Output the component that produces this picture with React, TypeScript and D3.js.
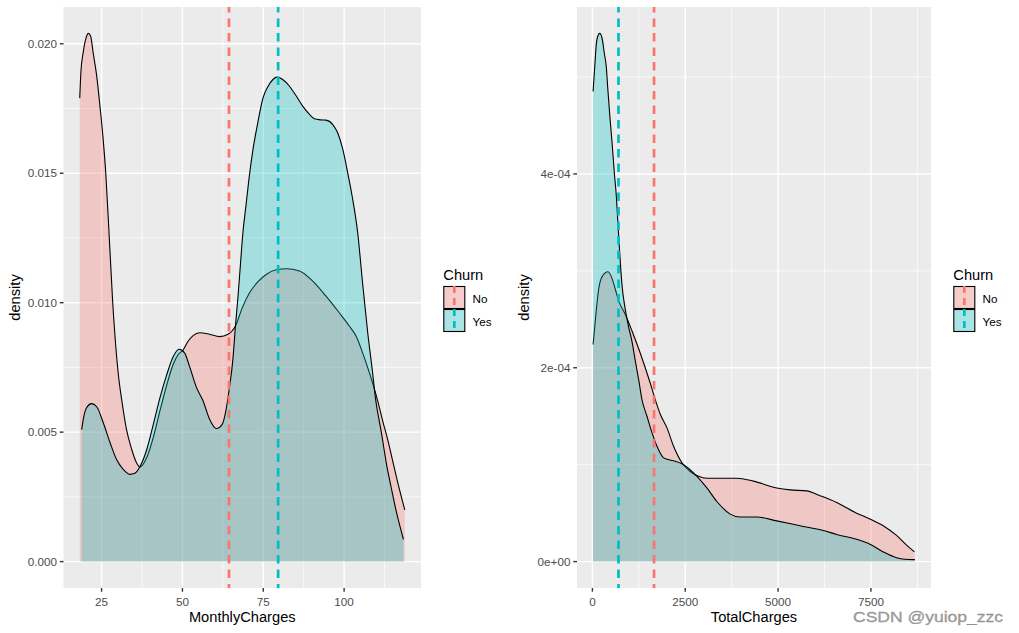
import React from "react";
import * as d3 from "d3";

type Pt = [number, number];

// ---------- Data ----------
const churnLevels = ["No", "Yes"];
const churnColors = ["#F8766D", "#00BFC4"];

// Left panel: density of MonthlyCharges by Churn
const monthlyNo: Pt[] = [
  [18.25, 0.0179], [18.6, 0.0189], [19.3, 0.01965], [20.2, 0.02023], [20.9, 0.0204],
  [21.6, 0.0203], [22.4, 0.01965], [23.5, 0.01875], [24.5, 0.01759], [25.5, 0.0163],
  [26.3, 0.015], [27.3, 0.0127], [28.4, 0.0101], [29.4, 0.0083], [30.3, 0.0071],
  [31.2, 0.00627], [32.7, 0.00511], [34.3, 0.00434], [35.8, 0.00382], [36.8, 0.00365],
  [38.9, 0.004], [41.0, 0.0048], [43.0, 0.0058], [45.1, 0.0068], [47.1, 0.0076],
  [48.7, 0.008], [50.2, 0.00817], [51.7, 0.0085], [53.3, 0.00873], [55.3, 0.00884],
  [58.4, 0.00878], [61.5, 0.00869], [64.1, 0.00878], [66.4, 0.0091], [68.5, 0.0098],
  [70.8, 0.01039], [73.3, 0.0108], [75.9, 0.01109], [79.0, 0.01127], [82.1, 0.01131],
  [86.2, 0.01122], [90.3, 0.01083], [94.4, 0.01025], [98.5, 0.00961], [101.6, 0.0091],
  [103.7, 0.00871], [105.7, 0.00807], [107.8, 0.0073], [109.4, 0.00665], [110.4, 0.0062],
  [112.0, 0.0054], [113.5, 0.0047], [115.0, 0.0039], [116.5, 0.0031], [118.75, 0.002],
];
const monthlyYes: Pt[] = [
  [18.85, 0.0051], [19.5, 0.0056], [20.4, 0.00595], [21.9, 0.0061], [23.5, 0.00598],
  [25.5, 0.00537], [27.6, 0.0046], [29.6, 0.00395], [31.7, 0.00356], [33.7, 0.00337],
  [35.3, 0.00341], [36.8, 0.00365], [38.9, 0.0043], [41.0, 0.0053], [43.0, 0.0063],
  [45.1, 0.0072], [47.1, 0.0079], [49.0, 0.0082], [50.7, 0.00805], [52.2, 0.00754],
  [54.3, 0.00674], [56.4, 0.0062], [58.4, 0.0055], [60.5, 0.00514], [62.3, 0.0053],
  [63.4, 0.0058], [64.4, 0.0066], [65.6, 0.0078], [66.4, 0.0091], [67.2, 0.01026],
  [67.9, 0.01141], [68.7, 0.0127], [69.6, 0.0137], [70.6, 0.0148], [71.8, 0.0159],
  [73.3, 0.01695], [74.9, 0.0179], [76.4, 0.01834], [78.0, 0.01862], [79.2, 0.01871],
  [81.0, 0.01862], [83.1, 0.01836], [85.2, 0.01798], [87.2, 0.01759], [89.3, 0.01727],
  [90.8, 0.0171], [92.6, 0.01706], [94.4, 0.01705], [96.5, 0.01688], [98.0, 0.01656],
  [99.6, 0.01592], [101.1, 0.01502], [102.5, 0.0141], [104.2, 0.0127], [105.7, 0.01077],
  [107.3, 0.00884], [108.8, 0.0073], [109.7, 0.0063], [111.5, 0.005], [113.2, 0.0037],
  [114.5, 0.0029], [116.2, 0.0019], [118.35, 0.00086],
];
const monthlyMedians = [64.4, 79.6]; // No, Yes

const monthlyXTicks = [25, 50, 75, 100];
const monthlyXTickLabels = ["25", "50", "75", "100"];
const monthlyXMinor = [37.5, 62.5, 87.5, 112.5];
const monthlyYTicks = [0, 0.005, 0.01, 0.015, 0.02];
const monthlyYTickLabels = ["0.000", "0.005", "0.010", "0.015", "0.020"];
const monthlyYMinor = [0.0025, 0.0075, 0.0125, 0.0175];

// Right panel: density of TotalCharges by Churn
const totalNo: Pt[] = [
  [18.8, 2.24e-4], [99, 2.57e-4], [169, 2.81e-4], [261, 2.94e-4], [422, 2.99e-4],
  [530, 2.92e-4], [618, 2.81e-4], [707, 2.69e-4], [887, 2.55e-4], [1067, 2.38e-4],
  [1290, 2.15e-4], [1559, 1.84e-4], [1694, 1.67e-4], [1828, 1.52e-4], [2008, 1.38e-4],
  [2186, 1.19e-4], [2411, 1.02e-4], [2634, 9.3e-5], [2858, 8.8e-5], [3083, 8.6e-5],
  [3890, 8.6e-5], [4336, 8.3e-5], [4965, 7.6e-5], [5323, 7.4e-5], [5771, 7.3e-5],
  [6129, 6.8e-5], [6578, 6.1e-5], [7116, 5.0e-5], [7473, 4.4e-5], [7831, 3.7e-5],
  [8190, 2.7e-5], [8460, 1.7e-5], [8672.45, 1.0e-5],
];
const totalYes: Pt[] = [
  [18.85, 4.85e-4], [62, 5.1e-4], [108, 5.35e-4], [153, 5.43e-4], [196, 5.45e-4],
  [261, 5.4e-4], [323, 5.24e-4], [376, 5.1e-4], [411, 4.9e-4], [465, 4.62e-4],
  [530, 4.32e-4], [591, 4.01e-4], [645, 3.77e-4], [691, 3.47e-4], [753, 3.08e-4],
  [798, 2.85e-4], [887, 2.6e-4], [976, 2.42e-4], [1067, 2.27e-4], [1156, 2.07e-4],
  [1245, 1.88e-4], [1336, 1.67e-4], [1470, 1.5e-4], [1605, 1.33e-4], [1739, 1.19e-4],
  [1917, 1.07e-4], [2185, 1.04e-4], [2411, 1.01e-4], [2815, 8.8e-5], [3083, 7.6e-5],
  [3352, 6.2e-5], [3710, 4.9e-5], [3978, 4.6e-5], [4427, 4.6e-5], [4965, 4.2e-5],
  [5591, 3.7e-5], [6218, 3.2e-5], [6578, 2.8e-5], [7116, 2.3e-5], [7473, 1.8e-5],
  [7831, 1.0e-5], [8190, 4e-6], [8414, 2.4e-6], [8684.8, 2.0e-6],
];
const totalMedians = [1660, 703]; // No, Yes

const totalXTicks = [0, 2500, 5000, 7500];
const totalXTickLabels = ["0", "2500", "5000", "7500"];
const totalXMinor = [1250, 3750, 6250, 8750];
const totalYTicks = [0, 2e-4, 4e-4];
const totalYTickLabels = ["0e+00", "2e-04", "4e-04"];
const totalYMinor = [1e-4, 3e-4, 5e-4];

// ---------- Drawing ----------
const FONT = "'Liberation Sans', Arial, Helvetica, sans-serif";
const TOP = 7;
const BOTTOM = 588;

type PanelProps = {
  originX: number;
  left: number;
  right: number;
  series: Pt[][];
  medians: number[];
  xTicks: number[];
  xTickLabels: string[];
  xMinor: number[];
  yTicks: number[];
  yTickLabels: string[];
  yMinor: number[];
  xTitle: string;
};

function DensityPanel(p: PanelProps) {
  const allX = p.series.flatMap((s) => s.map((d) => d[0]));
  const allY = p.series.flatMap((s) => s.map((d) => d[1]));
  const xmin = d3.min(allX) as number;
  const xmax = d3.max(allX) as number;
  const ymax = d3.max(allY) as number;
  const xr = xmax - xmin;
  const xs = d3.scaleLinear().domain([xmin - 0.05 * xr, xmax + 0.05 * xr]).range([p.left, p.right]);
  const ys = d3.scaleLinear().domain([-0.05 * ymax, 1.05 * ymax]).range([BOTTOM, TOP]);

  const area = d3
    .area<Pt>()
    .x((d) => xs(d[0]))
    .y0(ys(0))
    .y1((d) => ys(d[1]))
    .curve(d3.curveMonotoneX);
  const line = d3
    .line<Pt>()
    .x((d) => xs(d[0]))
    .y((d) => ys(d[1]))
    .curve(d3.curveMonotoneX);

  const legX = p.right + 22.3;
  const keyW = 22;
  const keyH = 23;
  const keyTop = 286;
  const dash = "8.5,6";

  return (
    <g>
      <rect x={p.left} y={TOP} width={p.right - p.left} height={BOTTOM - TOP} fill="#EBEBEB" />
      {p.xMinor.map((v, i) => (
        <line key={"xm" + i} x1={xs(v)} x2={xs(v)} y1={TOP} y2={BOTTOM} stroke="#FFFFFF" strokeWidth={0.7} />
      ))}
      {p.yMinor.map((v, i) => (
        <line key={"ym" + i} x1={p.left} x2={p.right} y1={ys(v)} y2={ys(v)} stroke="#FFFFFF" strokeWidth={0.7} />
      ))}
      {p.xTicks.map((v, i) => (
        <line key={"xg" + i} x1={xs(v)} x2={xs(v)} y1={TOP} y2={BOTTOM} stroke="#FFFFFF" strokeWidth={1.4} />
      ))}
      {p.yTicks.map((v, i) => (
        <line key={"yg" + i} x1={p.left} x2={p.right} y1={ys(v)} y2={ys(v)} stroke="#FFFFFF" strokeWidth={1.4} />
      ))}

      {p.series.map((s, i) => (
        <g key={"s" + i}>
          <path d={area(s) || ""} fill={churnColors[i]} fillOpacity={0.3} stroke="none" />
          <path d={line(s) || ""} fill="none" stroke="#000000" strokeWidth={1.1} />
        </g>
      ))}

      {p.medians.map((m, i) => (
        <line
          key={"md" + i}
          x1={xs(m)}
          x2={xs(m)}
          y1={TOP}
          y2={BOTTOM}
          stroke={churnColors[i]}
          strokeWidth={2.7}
          strokeDasharray={dash}
          strokeDashoffset={3}
        />
      ))}

      {/* x axis */}
      {p.xTicks.map((v, i) => (
        <g key={"xt" + i}>
          <line x1={xs(v)} x2={xs(v)} y1={BOTTOM} y2={BOTTOM + 3.7} stroke="#333333" strokeWidth={1.4} />
          <text x={xs(v)} y={606} textAnchor="middle" fontFamily={FONT} fontSize={11.7} fill="#4D4D4D">
            {p.xTickLabels[i]}
          </text>
        </g>
      ))}
      {/* y axis */}
      {p.yTicks.map((v, i) => (
        <g key={"yt" + i}>
          <line x1={p.left - 3.7} x2={p.left} y1={ys(v)} y2={ys(v)} stroke="#333333" strokeWidth={1.4} />
          <text x={p.left - 6.6} y={ys(v) + 4.2} textAnchor="end" fontFamily={FONT} fontSize={11.7} fill="#4D4D4D">
            {p.yTickLabels[i]}
          </text>
        </g>
      ))}
      <text x={(p.left + p.right) / 2} y={622} textAnchor="middle" fontFamily={FONT} fontSize={14.67} fill="#000000">
        {p.xTitle}
      </text>
      <text
        transform={`translate(${p.originX + 19.5},${(TOP + BOTTOM) / 2}) rotate(-90)`}
        textAnchor="middle"
        fontFamily={FONT}
        fontSize={14.67}
        fill="#000000"
      >
        density
      </text>

      {/* legend */}
      <text x={legX} y={279.5} fontFamily={FONT} fontSize={14.67} fill="#000000">
        Churn
      </text>
      {churnLevels.map((lab, i) => {
        const ky = keyTop + i * keyH;
        return (
          <g key={"lg" + i}>
            <rect x={legX} y={ky} width={keyW} height={keyH} fill="#F2F2F2" />
            <rect
              x={legX + 0.5}
              y={ky + 0.5}
              width={keyW - 1}
              height={keyH - 1}
              fill={churnColors[i]}
              fillOpacity={0.3}
              stroke="#000000"
              strokeWidth={1.1}
            />
            <line
              x1={legX + keyW / 2}
              x2={legX + keyW / 2}
              y1={ky}
              y2={ky + keyH}
              stroke={churnColors[i]}
              strokeWidth={2.7}
              strokeDasharray="7,5"
            />
            <text x={legX + keyW + 7.3} y={ky + keyH / 2 + 5} fontFamily={FONT} fontSize={11.7} fill="#000000">
              {lab}
            </text>
          </g>
        );
      })}
    </g>
  );
}

export default function App() {
  return (
    <svg
      width={1019}
      height={633}
      viewBox="0 0 1019 633"
      style={{ position: "absolute", left: 0, top: 0, display: "block", background: "#FFFFFF" }}
    >
      <rect x={0} y={0} width={1019} height={633} fill="#FFFFFF" />
      <DensityPanel
        originX={0}
        left={63.5}
        right={421}
        series={[monthlyNo, monthlyYes]}
        medians={monthlyMedians}
        xTicks={monthlyXTicks}
        xTickLabels={monthlyXTickLabels}
        xMinor={monthlyXMinor}
        yTicks={monthlyYTicks}
        yTickLabels={monthlyYTickLabels}
        yMinor={monthlyYMinor}
        xTitle="MonthlyCharges"
      />
      <DensityPanel
        originX={509.5}
        left={577}
        right={931}
        series={[totalNo, totalYes]}
        medians={totalMedians}
        xTicks={totalXTicks}
        xTickLabels={totalXTickLabels}
        xMinor={totalXMinor}
        yTicks={totalYTicks}
        yTickLabels={totalYTickLabels}
        yMinor={totalYMinor}
        xTitle="TotalCharges"
      />
      <text
        x={853}
        y={621.5}
        fontFamily={FONT}
        fontSize={15.5}
        fill="#A0A0A0"
        stroke="#8A8A8A"
        strokeWidth={0.3}
        textLength={150}
        lengthAdjust="spacingAndGlyphs"
      >
        CSDN @yuiop_zzc
      </text>
    </svg>
  );
}
